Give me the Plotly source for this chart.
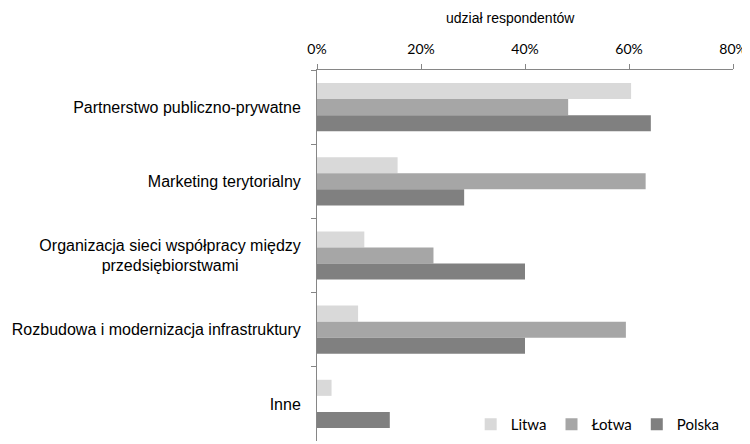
import plotly.graph_objects as go

categories = [
    "Partnerstwo publiczno-prywatne",
    "Marketing terytorialny",
    "Organizacja sieci współpracy między<br>przedsiębiorstwami" + "\u00a0" * 14,
    "Rozbudowa i modernizacja infrastruktury",
    "Inne",
]
litwa = [0.604, 0.155, 0.091, 0.079, 0.028]
lotwa = [0.483, 0.632, 0.224, 0.594, 0.0]
polska = [0.642, 0.283, 0.400, 0.400, 0.140]

series = [
    ("Litwa", litwa, "#d9d9d9"),
    ("Łotwa", lotwa, "#a6a6a6"),
    ("Polska", polska, "#808080"),
]

fig = go.Figure()
for name, vals, color in series:
    fig.add_trace(go.Bar(
        y=categories, x=vals, name=name, orientation="h",
        marker=dict(color=color, line=dict(width=0)),
    ))

# page body has an 8px margin, so the figure is a bit smaller than the window
fig.update_layout(
    width=742, height=436,
    margin=dict(l=309, r=17, t=62, b=3),
    barmode="group", bargap=0.35, bargroupgap=0,
    plot_bgcolor="white", paper_bgcolor="white",
    font=dict(family="Liberation Sans, Arial", size=16, color="#000000"),
    legend=dict(
        orientation="h", x=0.98, xanchor="right", y=0.0, yanchor="bottom",
        font=dict(family="Lato, Open Sans", size=15),
        bgcolor="rgba(0,0,0,0)", itemwidth=30, traceorder="normal",
    ),
    annotations=[dict(
        text="udział respondentów", xref="paper", yref="paper",
        x=0.464, y=1, yshift=52, xanchor="center", yanchor="middle",
        showarrow=False, font=dict(family="Liberation Sans, Arial", size=14),
    )],
)
fig.update_xaxes(
    side="top", range=[0, 0.8], dtick=0.2, tickformat=".0%",
    showgrid=False, zeroline=False, showline=True, linecolor="#868686", linewidth=1,
    ticks="outside", ticklen=5, tickcolor="#868686", automargin=False,
    ticklabelstandoff=4,
    tickfont=dict(family="Lato, Open Sans", size=14),
)
fig.update_yaxes(
    autorange="reversed", showgrid=False, showline=True, linecolor="#868686", linewidth=1,
    ticks="outside", ticklen=5, tickcolor="#868686", tickson="boundaries",
    ticklabelstandoff=12, automargin=False,
)

fig.write_html("out.html")
